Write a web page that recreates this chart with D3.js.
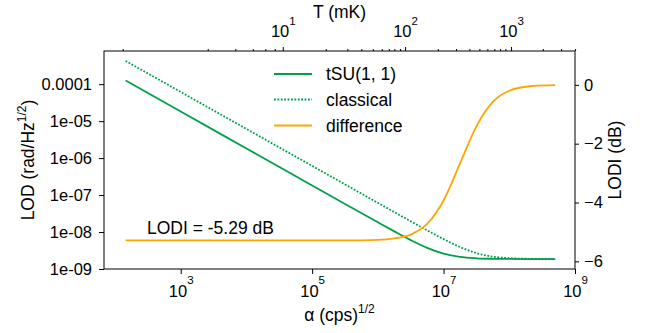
<!DOCTYPE html>
<html>
<head>
<meta charset="utf-8">
<script src="https://d3js.org/d3.v7.min.js"></script>
<style>
body { margin: 0; background: #fff; }
text { font-family: "Liberation Sans", Arial, sans-serif; fill: #000; }
</style>
</head>
<body>
<div id="chart-area"></div>
<script>
// values
var alpha = [145, 1e3, 1e4, 1e5, 3.16e5, 1e6, 1.78e6, 3.16e6, 5.62e6, 1e7, 1.78e7, 3.16e7, 5.62e7, 1e8, 2.24e8, 5e8];
var lodTSU = [1.26e-4, 1.82e-5, 1.82e-6, 1.82e-7, 5.76e-8, 1.83e-8, 1.04e-8, 6.05e-9, 3.73e-9, 2.60e-9, 2.12e-9, 1.95e-9, 1.89e-9, 1.87e-9, 1.86e-9, 1.86e-9];
var lodClassical = [4.26e-4, 6.15e-5, 6.15e-6, 6.15e-7, 1.95e-7, 6.15e-8, 3.46e-8, 1.95e-8, 1.11e-8, 6.43e-9, 3.93e-9, 2.69e-9, 2.16e-9, 1.96e-9, 1.88e-9, 1.86e-9];
var lodiDB = [-5.29, -5.29, -5.29, -5.29, -5.29, -5.27, -5.22, -5.09, -4.73, -3.93, -2.67, -1.41, -0.58, -0.20, -0.04, -0.01];

var legendLabels = ["tSU(1, 1)", "classical", "difference"];
var xTicks = [1e3, 1e5, 1e7, 1e9];
var yTicks = [1e-4, 1e-5, 1e-6, 1e-7, 1e-8, 1e-9];
var yTickLabels = ["0.0001", "1e-05", "1e-06", "1e-07", "1e-08", "1e-09"];
var dbTicks = [0, -2, -4, -6];
// top axis: temperature ticks (mK) and where they sit on the alpha axis (log10 alpha)
var tempTicks = [4, 5, 6, 7, 8, 9, 10, 20, 30, 40, 50, 60, 70, 80, 90, 100, 200, 300, 400, 500, 600, 700, 800, 900, 1000, 2000, 3000, 4000];
var tempAlphaExp = [2.117, 3.411, 3.831, 4.096, 4.288, 4.431, 4.553, 5.207, 5.536, 5.749, 5.922, 6.059, 6.166, 6.251, 6.338, 6.414, 6.912, 7.190, 7.393, 7.545, 7.667, 7.773, 7.860, 7.941, 8.027, 8.510, 8.788, 9.001];
var tempMajor = [10, 100, 1000];

var green = "#00a04b", orange = "#ffa500";
var margin = {left: 104, right: 82, top: 51, bottom: 64};
var width = 657, height = 333;
var x0 = margin.left, x1 = width - margin.right, y0 = height - margin.bottom, y1 = margin.top;

var svg = d3.select("#chart-area").append("svg")
    .attr("width", width)
    .attr("height", height);

var x = d3.scaleLog().domain([68, 1e9]).range([x0, x1]);
var y = d3.scaleLog().domain([1e-9, 7.9e-4]).range([y0, y1]);
var y2 = d3.scaleLinear().domain([-6.26, 1.15]).range([y0, y1]);

var tickFont = "16.5px", labelFont = "17.5px";

function styleAxis(g) {
    g.select(".domain").remove();
    g.attr("font-family", null).attr("font-size", tickFont);
    g.selectAll("line").attr("stroke", "#000");
}

function powerLabel(sel, base, exp, yPos, raise) {
    var t = sel.append("text")
        .attr("y", yPos)
        .attr("text-anchor", "middle")
        .style("font-size", tickFont);
    t.append("tspan").text(base);
    t.append("tspan").attr("dy", -raise).style("font-size", "11.5px").text(exp);
}

// bottom axis
var gx = svg.append("g")
    .attr("transform", "translate(0," + y0 + ")")
    .call(d3.axisBottom(x).tickValues(xTicks).tickSize(5).tickFormat(""))
    .call(styleAxis);
gx.selectAll(".tick").each(function(d) {
    powerLabel(d3.select(this), "10", Math.round(Math.log10(d)), 28, 13);
});

// left axis
svg.append("g")
    .attr("transform", "translate(" + x0 + ",0)")
    .call(d3.axisLeft(y).tickValues(yTicks).tickSize(5).tickPadding(7)
        .tickFormat((d, i) => yTickLabels[i]))
    .call(styleAxis);

// right axis
svg.append("g")
    .attr("transform", "translate(" + x1 + ",0)")
    .call(d3.axisRight(y2).tickValues(dbTicks).tickSize(4).tickPadding(5)
        .tickFormat((d) => d < 0 ? "\u2212" + Math.abs(d) : d))
    .call(styleAxis);

// top axis (temperature)
var tScale = d3.scaleLinear()
    .domain(tempTicks.map((d) => Math.log10(d)))
    .range(tempAlphaExp.map((e) => x(Math.pow(10, e))));
svg.append("g")
    .attr("transform", "translate(0," + y1 + ")")
    .call(d3.axisTop(tScale).tickValues(tempTicks.filter((d) => tempMajor.indexOf(d) < 0).map((d) => Math.log10(d)))
        .tickSize(2).tickFormat(""))
    .call(styleAxis);
var gt = svg.append("g")
    .attr("transform", "translate(0," + y1 + ")")
    .call(d3.axisTop(tScale).tickValues(tempMajor.map((d) => Math.log10(d))).tickSize(4).tickFormat(""))
    .call(styleAxis);
gt.selectAll(".tick").each(function(d) {
    powerLabel(d3.select(this), "10", Math.round(d), -14, 12);
});

// frame
svg.append("rect")
    .attr("x", x0).attr("y", y1)
    .attr("width", x1 - x0).attr("height", y0 - y1)
    .attr("fill", "none").attr("stroke", "#000").attr("stroke-width", 1);

// lines
var rows = alpha.map((a, i) => ({a: a, t: lodTSU[i], c: lodClassical[i], d: lodiDB[i]}));

var lineT = d3.line().x((d) => x(d.a)).y((d) => y(d.t)).curve(d3.curveMonotoneX);
var lineC = d3.line().x((d) => x(d.a)).y((d) => y(d.c)).curve(d3.curveMonotoneX);
var lineD = d3.line().x((d) => x(d.a)).y((d) => y2(d.d)).curve(d3.curveMonotoneX);

svg.append("path").datum(rows).attr("d", lineT)
    .attr("fill", "none").attr("stroke", green).attr("stroke-width", 1.8);
svg.append("path").datum(rows).attr("d", lineC)
    .attr("fill", "none").attr("stroke", green).attr("stroke-width", 1.8)
    .attr("stroke-dasharray", "1.8,1.6");
svg.append("path").datum(rows).attr("d", lineD)
    .attr("fill", "none").attr("stroke", orange).attr("stroke-width", 1.8);

// legend
var legY = [74, 99.5, 125.5];
var legDash = [null, "1.8,1.6", null];
var legColor = [green, green, orange];
legendLabels.forEach((name, i) => {
    svg.append("line")
        .attr("x1", 274).attr("x2", 312)
        .attr("y1", legY[i]).attr("y2", legY[i])
        .attr("stroke", legColor[i]).attr("stroke-width", 1.8)
        .attr("stroke-dasharray", legDash[i]);
    svg.append("text")
        .attr("x", 326).attr("y", legY[i]).attr("dy", "0.36em")
        .style("font-size", labelFont)
        .text(name);
});

// annotation
svg.append("text")
    .attr("x", 147).attr("y", 234)
    .style("font-size", labelFont)
    .text("LODI = -5.29 dB");

// axis titles
var xl = svg.append("text")
    .attr("x", (x0 + x1) / 2).attr("y", 321)
    .attr("text-anchor", "middle")
    .style("font-size", labelFont);
xl.append("tspan").text("\u03b1 (cps)");
xl.append("tspan").attr("dy", -8).style("font-size", "12px").text("1/2");

svg.append("text")
    .attr("x", (x0 + x1) / 2).attr("y", 18)
    .attr("text-anchor", "middle")
    .style("font-size", labelFont)
    .text("T (mK)");

var yl = svg.append("text")
    .attr("transform", "translate(34," + (y0 + y1) / 2 + ") rotate(-90)")
    .attr("text-anchor", "middle")
    .style("font-size", labelFont);
yl.append("tspan").text("LOD (rad/Hz");
yl.append("tspan").attr("dy", -8).style("font-size", "12px").text("1/2");
yl.append("tspan").attr("dy", 8).text(")");

svg.append("text")
    .attr("transform", "translate(621," + (y0 + y1) / 2 + ") rotate(-90)")
    .attr("text-anchor", "middle")
    .style("font-size", labelFont)
    .text("LODI (dB)");
</script>
</body>
</html>
